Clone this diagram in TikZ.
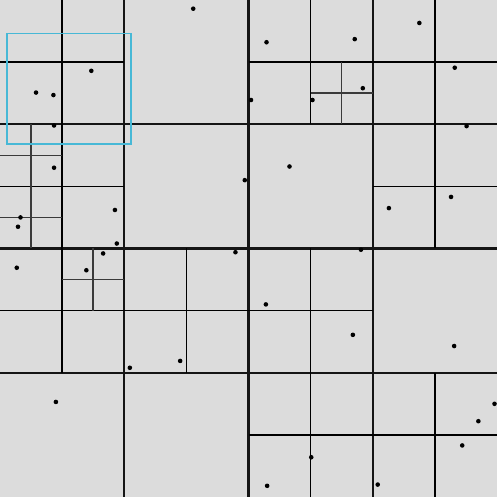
\documentclass[tikz,border=0pt]{standalone}
\usepackage{tikz}

\definecolor{paper}{HTML}{DCDCDC}
\definecolor{split}{HTML}{151515}
\definecolor{finesplit}{HTML}{3A3A3A}
\definecolor{query}{HTML}{47B8D6}

\begin{document}
\begin{tikzpicture}[scale=1,
    level1/.style={line width=1pt, color=split},
    level2/.style={line width=0.65pt, color=black},
    level3/.style={line width=0.7pt, color=finesplit}]

% ---- Background (fixes the page) ----
\fill[paper] (0,0) rectangle (8,8);
\useasboundingbox (0,0) rectangle (8,8);

% ---- Top level splits ----
\foreach \c in {2,4,6}{
    \draw[level1] (\c,0) -- (\c,8);
    \draw[level1] (0,\c) -- (8,\c);
}

% ---- Second level splits ----
\draw[level2] (0,7) -- (2,7);
\draw[level2] (4,7) -- (8,7);
\draw[level2] (0,5) -- (2,5);
\draw[level2] (6,5) -- (8,5);
\draw[level2] (0,3) -- (6,3);
\draw[level2] (4,1) -- (8,1);
\draw[level2] (1,2) -- (1,8);
\draw[level2] (3,2) -- (3,4);
\draw[level2] (5,0) -- (5,4);
\draw[level2] (5,6) -- (5,8);
\draw[level2] (7,0) -- (7,2);
\draw[level2] (7,4) -- (7,8);

% ---- Third level splits ----
\draw[level3] (0.5,4) -- (0.5,6);
\draw[level3] (0,5.5) -- (1,5.5);
\draw[level3] (0,4.5) -- (1,4.5);
\draw[level3] (5.5,6) -- (5.5,7);
\draw[level3] (5,6.5) -- (6,6.5);
\draw[level3] (1.5,3) -- (1.5,4);
\draw[level3] (1,3.5) -- (2,3.5);

% ---- Stored points ----
\foreach \px/\py in {
    3.11/7.86, 1.47/6.86, 0.58/6.51, 0.86/6.47, 0.87/5.98,
    0.87/5.30, 3.94/5.10, 1.85/4.62, 0.33/4.50, 0.29/4.35,
    1.88/4.08, 4.29/7.32, 5.71/7.37, 6.75/7.63, 7.32/6.91,
    5.84/6.58, 4.04/6.39, 5.03/6.39, 7.51/5.97, 4.66/5.32,
    7.26/4.83, 6.26/4.65, 0.27/3.69, 1.66/3.92, 1.39/3.65,
    3.79/3.94, 2.90/2.19, 2.09/2.08, 0.90/1.53, 5.81/3.98,
    4.28/3.10, 5.68/2.61, 7.31/2.43, 7.96/1.50, 7.70/1.22,
    7.44/0.83, 5.01/0.64, 4.30/0.18, 6.08/0.20
}{
    \fill[black] (\px,\py) circle (1.05pt);
}

% ---- Query window ----
\draw[query, line width=0.7pt] (0.11,5.68) rectangle (2.11,7.46);

\end{tikzpicture}
\end{document}
